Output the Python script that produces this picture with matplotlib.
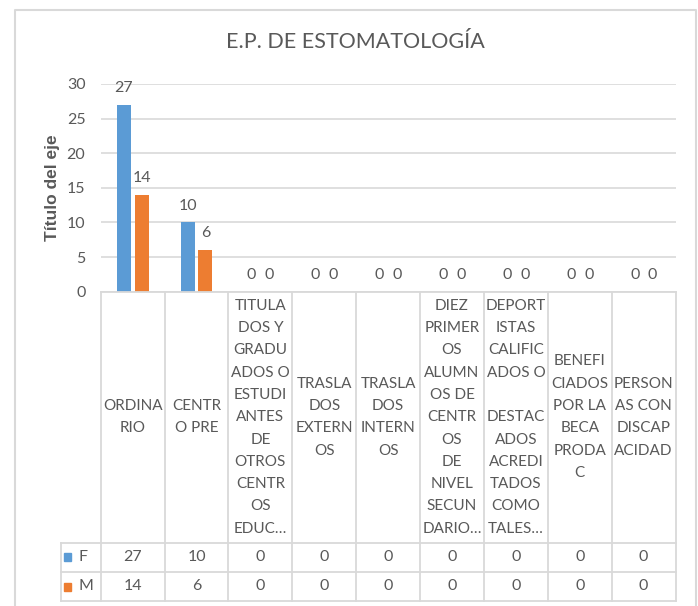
import matplotlib
matplotlib.use("Agg")
import matplotlib.pyplot as plt
from matplotlib.patches import Rectangle

# data
categories = [
    "ORDINA\nRIO",
    "CENTR\nO PRE",
    "TITULA\nDOS Y\nGRADU\nADOS O\nESTUDI\nANTES\nDE\nOTROS\nCENTR\nOS\nEDUC…",
    "TRASLA\nDOS\nEXTERN\nOS",
    "TRASLA\nDOS\nINTERN\nOS",
    "DIEZ\nPRIMER\nOS\nALUMN\nOS DE\nCENTR\nOS\nDE\nNIVEL\nSECUN\nDARIO…",
    "DEPORT\nISTAS\nCALIFIC\nADOS O\n\nDESTAC\nADOS\nACREDI\nTADOS\nCOMO\nTALES…",
    "BENEFI\nCIADOS\nPOR LA\nBECA\nPRODA\nC",
    "PERSON\nAS CON\nDISCAP\nACIDAD",
]
series_names = ["F", "M"]
f_values = [27, 10, 0, 0, 0, 0, 0, 0, 0]
m_values = [14, 6, 0, 0, 0, 0, 0, 0, 0]
y_ticks = [0, 5, 10, 15, 20, 25, 30]

title = "E.P. DE ESTOMATOLOGÍA"
y_label = "Título del eje"

colors = ["#5B9BD5", "#ED7D31"]
text_col = "#595959"
grid_col = "#D9D9D9"

plt.rcParams["font.family"] = ["Lato", "DejaVu Sans"]
fs = 11.5      # numbers
fs_cat = 11    # category cells

W, H = 698, 606
fig = plt.figure(figsize=(W / 100, H / 100), dpi=100)

# plot area in pixels
left, right, top, bottom = 100.7, 675.6, 84.0, 291.7
table_bottom = 601.0
ax = fig.add_axes([left / W, (H - bottom) / H, (right - left) / W, (bottom - top) / H])

n = len(categories)
x = list(range(n))
bw = 0.22
off = 0.14
series = [f_values, m_values]
for i, vals in enumerate(series):
    xs = [xi + (-off if i == 0 else off) for xi in x]
    ax.bar(xs, vals, width=bw, color=colors[i], zorder=3)
    for xx, v in zip(xs, vals):
        ax.annotate(str(v), (xx, v), xytext=(0, 7), textcoords="offset points",
                    ha="center", va="bottom", fontsize=fs, color=text_col)

ax.set_xlim(-0.5, n - 0.5)
ax.set_ylim(0, 30)
ax.set_yticks(y_ticks)
ax.set_xticks([])
ax.yaxis.grid(True, color=grid_col, lw=1.2, zorder=0)
ax.tick_params(axis="y", length=0, pad=11, labelsize=fs, labelcolor=text_col)
for s in ax.spines.values():
    s.set_visible(False)
ax.set_ylabel(y_label, fontsize=12.5, color=text_col, fontweight="bold",
              family=["Liberation Sans", "DejaVu Sans"], labelpad=5)

fig.text(355 / W, 1 - 42 / H, title, ha="center", va="center",
         fontsize=15.5, color=text_col)

# data table below the plot
tax = fig.add_axes([left / W, (H - table_bottom) / H, (right - left) / W,
                    (table_bottom - bottom) / H])
tax.set_xlim(-0.5, n - 0.5)
th = table_bottom - bottom
tax.set_ylim(th, 0)
tax.axis("off")

row1 = 251.0
row2 = 280.3
leg_left = -0.5 - (left - 61) / ((right - left) / n)
lc = dict(color=grid_col, lw=1.3, clip_on=False, solid_capstyle="projecting")

tax.plot([-0.5, n - 0.5], [0, 0], **lc)
for yy in (row1, row2, th):
    tax.plot([leg_left, n - 0.5], [yy, yy], **lc)
for k in range(n + 1):
    tax.plot([k - 0.5, k - 0.5], [0, th], **lc)
tax.plot([leg_left, leg_left], [row1, th], **lc)

line_sp = 22.3
cell_mid = 125.5
for xi, cat in zip(x, categories):
    lines = cat.split("\n")
    for j, ln in enumerate(lines):
        yy = cell_mid + (j - (len(lines) - 1) / 2) * line_sp
        tax.text(xi, yy, ln, ha="center", va="center", fontsize=fs_cat, color=text_col)

row_mids = [(row1 + row2) / 2, (row2 + th) / 2]
px = (right - left) / n
for i, (nm, vals) in enumerate(zip(series_names, series)):
    ym = row_mids[i]
    tax.add_patch(Rectangle((leg_left + 3 / px, ym - 4), 7 / px, 8,
                            color=colors[i], clip_on=False))
    tax.text(leg_left + 18 / px, ym, nm, ha="left", va="center", fontsize=fs,
             color=text_col, clip_on=False)
    for xi, v in zip(x, vals):
        tax.text(xi, ym, str(v), ha="center", va="center", fontsize=fs, color=text_col)

# outer chart border
bax = fig.add_axes([0, 0, 1, 1], zorder=-1)
bax.set_xlim(0, W)
bax.set_ylim(H, 0)
bax.axis("off")
bax.plot([14.5, 14.5, 696, 696], [H + 5, 9.5, 9.5, H + 5], color=grid_col, lw=1.5)

fig.savefig("out.png", dpi=100)
